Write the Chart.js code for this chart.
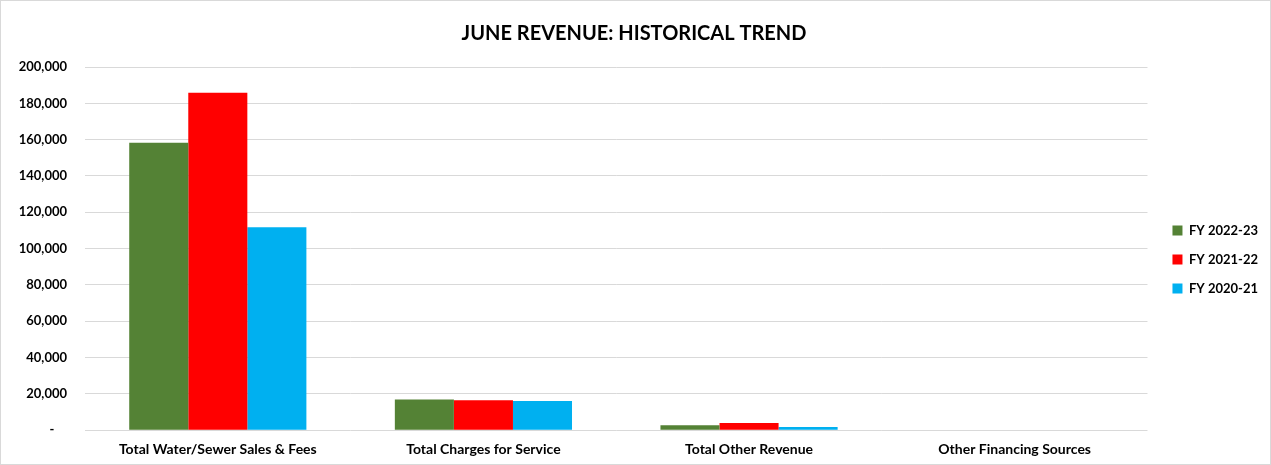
<!DOCTYPE html>
<html>
<head>
<meta charset="utf-8">
<title>June Revenue: Historical Trend</title>
<script src="https://cdn.jsdelivr.net/npm/chart.js@4.4.1/dist/chart.umd.min.js"></script>
<style>
  html, body { margin: 0; padding: 0; background: #fff; }
  #wrap { position: relative; width: 1271px; height: 465px; }
</style>
</head>
<body>
<div id="wrap"><canvas id="rev"></canvas></div>
<script>
// June revenue by category, three fiscal years
const categories = ['Total Water/Sewer Sales & Fees', 'Total Charges for Service', 'Total Other Revenue', 'Other Financing Sources'];
const fy2223 = [158300, 16900, 2700, 0];
const fy2122 = [185800, 16500, 4000, 0];
const fy2021 = [111800, 16100, 1800, 0];
const yTicks = [0, 20000, 40000, 60000, 80000, 100000, 120000, 140000, 160000, 180000, 200000];

const FONT = 'Lato, "Liberation Sans", sans-serif';
const LEGEND_GAP = 9;     // extra space between plot and legend
const LEGEND_DROP = 25;   // legend sits a bit below the middle

// thin frame round the whole chart
const framePlugin = {
  id: 'frame',
  afterDraw(chart) {
    const c = chart.ctx;
    c.save();
    c.strokeStyle = '#d9d9d9';
    c.lineWidth = 1;
    c.strokeRect(0.5, 0.5, chart.width - 1, chart.height - 1);
    c.restore();
  }
};

// widen the legend box, then push its contents right/down
const legendShift = {
  id: 'legendShift',
  afterInit(chart) {
    const lg = chart.legend;
    if (!lg) return;
    const fit = lg.fit.bind(lg);
    lg.fit = function () { fit(); this.width += LEGEND_GAP; };
  },
  afterLayout(chart) {
    const lg = chart.legend;
    if (!lg) return;
    lg.left += LEGEND_GAP;
    lg.top += LEGEND_DROP;
    lg.bottom += LEGEND_DROP;
  }
};

new Chart(document.getElementById('rev'), {
  type: 'bar',
  data: {
    labels: categories,
    datasets: [
      { label: 'FY 2022-23', data: fy2223, backgroundColor: '#548235' },
      { label: 'FY 2021-22', data: fy2122, backgroundColor: '#ff0000' },
      { label: 'FY 2020-21', data: fy2021, backgroundColor: '#00b0f0' }
    ]
  },
  options: {
    responsive: true,
    maintainAspectRatio: false,
    animation: false,
    categoryPercentage: 0.667,
    barPercentage: 1,
    layout: { padding: { left: 0, right: 3, top: 0, bottom: -4 } },
    plugins: {
      title: {
        display: true,
        text: 'JUNE REVENUE: HISTORICAL TREND',
        color: '#000',
        font: { family: FONT, size: 20, weight: 'bold' },
        padding: { top: 22, bottom: 21 }
      },
      legend: {
        position: 'right',
        labels: {
          color: '#000',
          font: { family: FONT, size: 13, weight: 'bold' },
          boxWidth: 10,
          boxHeight: 10,
          padding: 16
        }
      },
      tooltip: { enabled: false }
    },
    scales: {
      x: {
        grid: { display: false, drawTicks: false },
        border: { display: false },
        ticks: {
          color: '#000',
          font: { family: FONT, size: 14, weight: 'bold' },
          padding: 11,
          maxRotation: 0,
          autoSkip: false
        }
      },
      y: {
        min: 0,
        max: 200000,
        afterBuildTicks(axis) { axis.ticks = yTicks.map(v => ({ value: v })); },
        afterFit(axis) { axis.width = 85; },
        grid: { color: '#d9d9d9', lineWidth: 1, drawTicks: false },
        border: { display: false },
        ticks: {
          color: '#000',
          font: { family: FONT, size: 13, weight: 'bold' },
          padding: 18,
          callback: v => v === 0 ? '-    ' : v.toLocaleString('en-US')
        }
      }
    }
  },
  plugins: [framePlugin, legendShift]
});
</script>
</body>
</html>
